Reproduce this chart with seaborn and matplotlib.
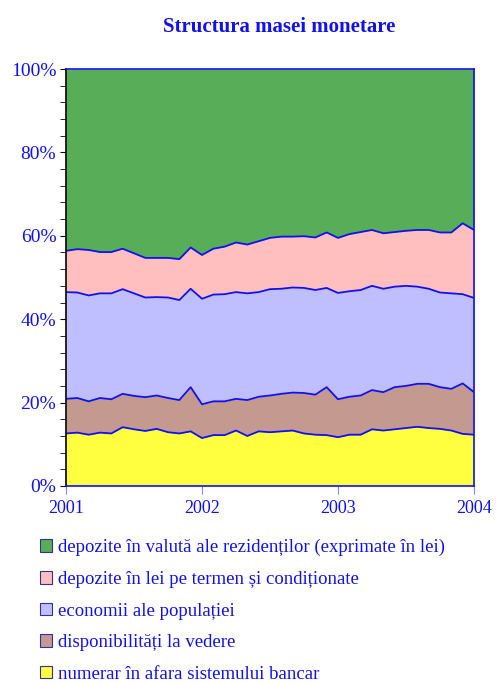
import matplotlib
matplotlib.use("Agg")
import matplotlib.pyplot as plt
import matplotlib.ticker as mticker
from matplotlib.patches import Patch
import numpy as np
import pandas as pd
import seaborn as sns

# monthly shares (%) Jan 2001 .. Jan 2004
months = pd.date_range("2001-01-01", "2004-01-01", freq="MS")
numerar = [12.6, 12.8, 12.3, 12.8, 12.6, 14.1, 13.6, 13.2, 13.7, 12.9, 12.6, 13.1, 11.5,
           12.2, 12.2, 13.3, 12.0, 13.1, 12.9, 13.1, 13.3, 12.6, 12.3, 12.2, 11.7,
           12.3, 12.3, 13.6, 13.3, 13.6, 13.9, 14.2, 13.9, 13.7, 13.3, 12.5, 12.3]
disponibilitati = [8.3, 8.3, 8.0, 8.3, 8.2, 8.0, 8.0, 8.1, 8.0, 8.2, 8.0, 10.6, 8.1,
                   8.1, 8.1, 7.6, 8.6, 8.3, 8.8, 9.0, 9.1, 9.7, 9.6, 11.5, 9.1,
                   9.1, 9.4, 9.4, 9.2, 10.1, 10.1, 10.3, 10.6, 10.0, 10.0, 12.1, 10.2]
economii = [25.6, 25.3, 25.4, 25.1, 25.4, 25.1, 24.6, 23.9, 23.6, 24.1, 24.0, 23.6, 25.3,
            25.6, 25.7, 25.6, 25.6, 25.1, 25.5, 25.2, 25.2, 25.2, 25.1, 23.8, 25.5,
            25.3, 25.3, 25.0, 24.8, 24.1, 24.0, 23.3, 22.8, 22.7, 22.9, 21.4, 22.6]
depozite_lei = [9.9, 10.4, 10.9, 9.9, 9.9, 9.7, 9.6, 9.5, 9.4, 9.5, 9.8, 9.9, 10.5,
                11.0, 11.4, 11.9, 11.7, 12.2, 12.3, 12.5, 12.2, 12.4, 12.6, 13.3, 13.2,
                13.7, 13.9, 13.4, 13.3, 13.1, 13.2, 13.6, 14.1, 14.4, 14.6, 17.0, 16.3]
depozite_valuta = [43.6, 43.2, 43.4, 43.9, 43.9, 43.1, 44.2, 45.3, 45.3, 45.3, 45.6, 42.8, 44.6,
                   43.1, 42.6, 41.6, 42.1, 41.3, 40.5, 40.2, 40.2, 40.1, 40.4, 39.2, 40.5,
                   39.6, 39.1, 38.6, 39.4, 39.1, 38.8, 38.6, 38.6, 39.2, 39.2, 37.0, 38.6]

labels = ["numerar în afara sistemului bancar",
          "disponibilități la vedere",
          "economii ale populației",
          "depozite în lei pe termen și condiționate",
          "depozite în valută ale rezidenților (exprimate în lei)"]
year_ticks = ["2001", "2002", "2003", "2004"]

df = pd.DataFrame({labels[0]: numerar, labels[1]: disponibilitati, labels[2]: economii,
                   labels[3]: depozite_lei, labels[4]: depozite_valuta}, index=months)
df = df.div(df.sum(axis=1), axis=0) * 100

sns.set_style("white")
plt.rcParams['font.family'] = ['Liberation Serif', 'DejaVu Serif']

blue = "#1010f0"
# flat colours ~ the average tone of the original dotted / checkered fills
fill = ["#ffff40", "#c49a90", "#bfbfff", "#ffbfbf", "#58ad58"]

fig = plt.figure(figsize=(4.96, 6.84), dpi=100)
ax = fig.add_axes([66 / 496, 1 - 486 / 684, 408 / 496, 417 / 684])

x = np.arange(len(df))
polys = ax.stackplot(x, df.T.values, colors=fill, linewidth=0)

cum = df.cumsum(axis=1)
for col in df.columns[:-1]:
    ax.plot(x, cum[col].values, color=blue, lw=1.3, zorder=3)

ax.set_xlim(0, len(df) - 1)
ax.set_ylim(0, 100)
ax.set_xticks([0, 12, 24, 36])
ax.set_xticklabels(year_ticks, color=blue, fontsize=13)
ax.yaxis.set_major_locator(mticker.MultipleLocator(20))
ax.yaxis.set_minor_locator(mticker.MultipleLocator(4))
ax.yaxis.set_major_formatter(mticker.FuncFormatter(lambda v, _: f"{v:.0f}%"))
ax.tick_params(axis="y", which="both", direction="out", length=4, color="black",
               left=True, labelcolor=blue, labelsize=14, pad=3)
ax.tick_params(axis="x", direction="out", length=6, color="#8080ff", bottom=True, pad=4)
for s in ["top", "right", "bottom"]:
    ax.spines[s].set_color(blue)
    ax.spines[s].set_linewidth(1.2)
    ax.spines[s].set_zorder(4)
ax.spines["left"].set_color("black")
ax.spines["left"].set_linewidth(1.2)
ax.spines["left"].set_zorder(4)

fig.text(279 / 496, 1 - 27 / 684, "Structura masei monetare", ha="center", va="center",
         color=blue, fontsize=15, fontweight="bold")

handles = [Patch(facecolor=c, edgecolor="#3030a0", linewidth=0.8) for c in fill[::-1]]
fig.legend(handles, labels[::-1], loc="upper left", bbox_to_anchor=(40 / 496, 1 - 539 / 684),
           frameon=False, fontsize=13.5, labelcolor=blue, handlelength=0.65, handleheight=0.65,
           handletextpad=0.3, labelspacing=0.78, borderaxespad=0, borderpad=0)

fig.savefig("out.png", dpi=100)
